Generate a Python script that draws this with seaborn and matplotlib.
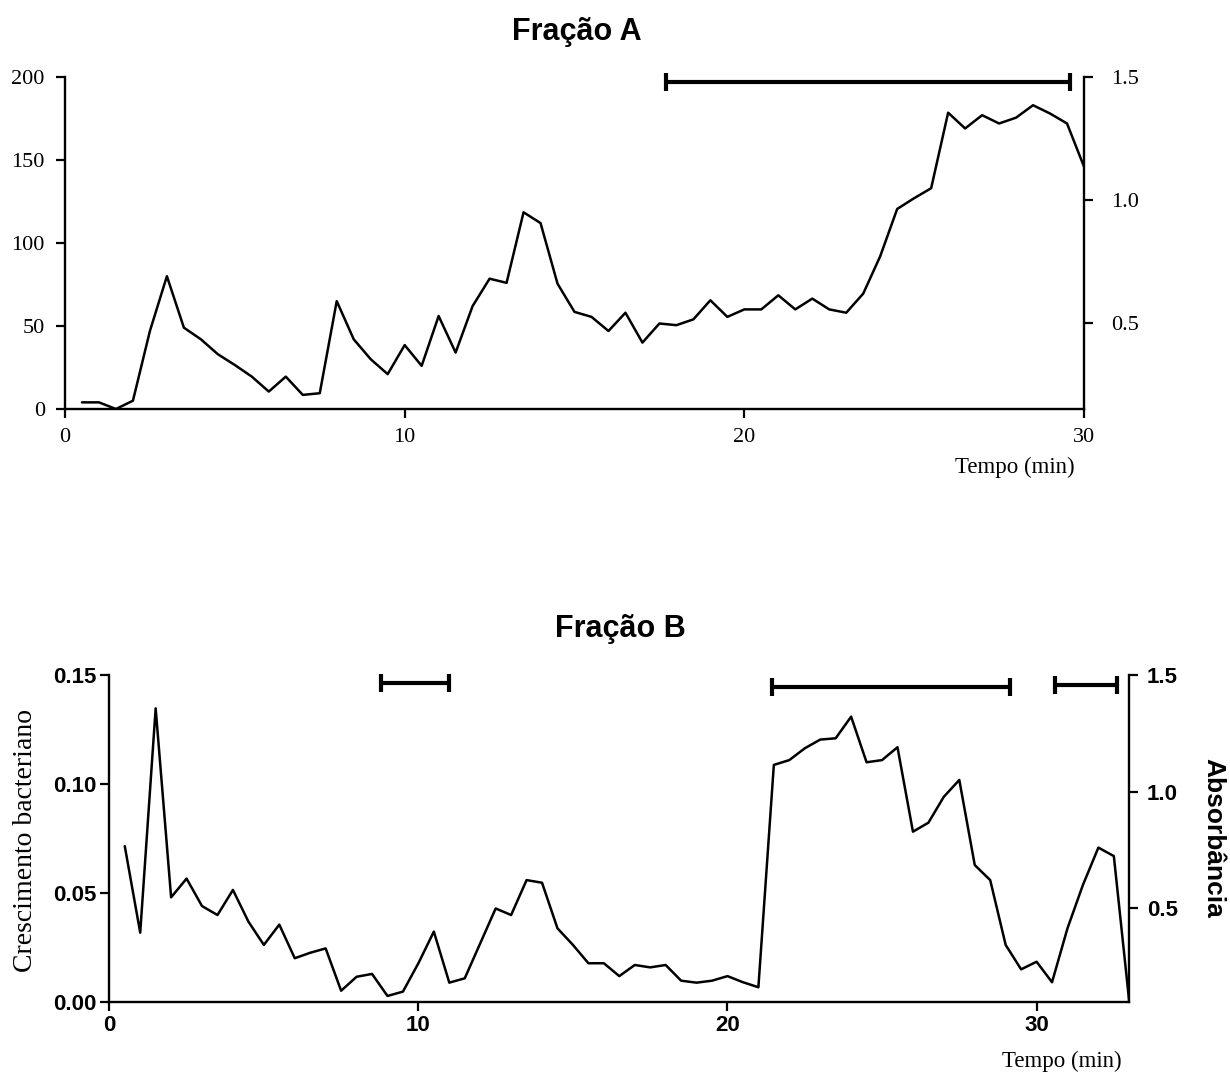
import numpy as np
import pandas as pd
import matplotlib
matplotlib.use("Agg")
import matplotlib.pyplot as plt
import seaborn as sns

# Fração A - leitura do cromatograma (tempo em min)
tempo_a = [0.5, 1.0, 1.5, 2.0, 2.5, 3.0, 3.5, 4.0, 4.5, 5.0,
           5.5, 6.0, 6.5, 7.0, 7.5, 8.0, 8.5, 9.0, 9.5, 10.0,
           10.5, 11.0, 11.5, 12.0, 12.5, 13.0, 13.5, 14.0, 14.5, 15.0,
           15.5, 16.0, 16.5, 17.0, 17.5, 18.0, 18.5, 19.0, 19.5, 20.0,
           20.5, 21.0, 21.5, 22.0, 22.5, 23.0, 23.5, 24.0, 24.5, 25.0,
           25.5, 26.0, 26.5, 27.0, 27.5, 28.0, 28.5, 29.0, 29.5, 30.0]
sinal_a = [4, 4, 0, 5, 47, 80, 49, 42, 33, 26.5,
           19.5, 10.5, 19.5, 8.5, 9.5, 65, 42, 30, 21, 38.5,
           26, 56, 34, 62, 78.5, 76, 118.5, 112, 75.5, 58.5,
           55.5, 47, 58, 40, 51.5, 50.5, 54, 65.5, 55.5, 60,
           60, 68.5, 60, 66.5, 60, 58, 69.5, 92, 120.5, 127,
           133, 178.5, 169, 177, 172, 175.5, 183, 178, 172, 146]

# Fração B
tempo_b = [0.5, 1.0, 1.5, 2.0, 2.5, 3.0, 3.5, 4.0, 4.5, 5.0,
           5.5, 6.0, 6.5, 7.0, 7.5, 8.0, 8.5, 9.0, 9.5, 10.0,
           10.5, 11.0, 11.5, 12.0, 12.5, 13.0, 13.5, 14.0, 14.5, 15.0,
           15.5, 16.0, 16.5, 17.0, 17.5, 18.0, 18.5, 19.0, 19.5, 20.0,
           20.5, 21.0, 21.5, 22.0, 22.5, 23.0, 23.5, 24.0, 24.5, 25.0,
           25.5, 26.0, 26.5, 27.0, 27.5, 28.0, 28.5, 29.0, 29.5, 30.0,
           30.5, 31.0, 31.5, 32.0, 32.5, 33.0]
sinal_b = [0.0716, 0.0319, 0.1347, 0.0481, 0.0567, 0.0441, 0.0400, 0.0515, 0.0370, 0.0263,
           0.0356, 0.0202, 0.0227, 0.0247, 0.0053, 0.0117, 0.0130, 0.0029, 0.0049, 0.0179,
           0.0324, 0.0090, 0.0110, 0.0270, 0.0430, 0.0400, 0.0560, 0.0548, 0.0339, 0.0263,
           0.0179, 0.0179, 0.0120, 0.0171, 0.0160, 0.0171, 0.0099, 0.0090, 0.0099, 0.0120,
           0.0092, 0.0069, 0.1088, 0.1110, 0.1164, 0.1204, 0.1210, 0.1309, 0.1100, 0.1110,
           0.1169, 0.0782, 0.0823, 0.0942, 0.1019, 0.0629, 0.0560, 0.0263, 0.0151, 0.0186,
           0.0092, 0.0339, 0.0538, 0.0709, 0.0670, 0.0000]

# faixas com atividade (barras horizontais)
faixa_a_ini = [17.7]
faixa_a_fim = [29.6]
faixa_a_nivel = [197]
faixa_b_ini = [8.8, 21.45, 30.6]
faixa_b_fim = [11.0, 29.15, 32.6]
faixa_b_nivel = [0.1463, 0.1444, 0.1454]

ticks_a_esq = [0, 50, 100, 150, 200]
ticks_a_x = [0, 10, 20, 30]
ticks_b_esq = [0.00, 0.05, 0.10, 0.15]
ticks_b_x = [0, 10, 20, 30]
ticks_abs = [0.5, 1.0, 1.5]

sns.set_theme(style="ticks")
plt.rcParams["font.family"] = ["Liberation Sans", "DejaVu Sans"]
plt.rcParams["axes.linewidth"] = 1.7
plt.rcParams["text.color"] = "black"

serif = ["Liberation Serif", "DejaVu Serif"]
sans = ["Liberation Sans", "DejaVu Sans"]

fig = plt.figure(figsize=(12.3, 10.75), dpi=100)
W, H = 1230, 1075


def box(x0, y0, x1, y1):
    return [x0 / W, 1 - y1 / H, (x1 - x0) / W, (y1 - y0) / H]


def barras(ax, ini, fim, nivel):
    ini = np.array(ini)
    fim = np.array(fim)
    ax.errorbar((ini + fim) / 2, nivel, xerr=(fim - ini) / 2, fmt="none",
                ecolor="black", elinewidth=3, capsize=6.5, capthick=3, clip_on=False)


def estilo(ax, ax2, familia, peso, pads):
    ax.spines["top"].set_visible(False)
    ax2.spines["top"].set_visible(False)
    ax2.spines["left"].set_visible(False)
    ax2.spines["bottom"].set_visible(False)
    ax.spines["right"].set_visible(False)
    for a in (ax, ax2):
        for sp in a.spines.values():
            sp.set_linewidth(1.7)
            sp.set_color("black")
    ax.tick_params(axis="y", length=6.5, width=1.6, color="black", pad=pads[0])
    ax.tick_params(axis="x", length=6.5, width=1.6, color="black", pad=pads[2])
    ax2.tick_params(axis="y", length=6.5, width=1.6, color="black", pad=pads[1])
    for lab in ax.get_xticklabels() + ax.get_yticklabels() + ax2.get_yticklabels():
        lab.set_fontfamily(familia)
        lab.set_fontweight(peso)
        lab.set_fontsize(16)
        lab.set_color("black")
    ax.set_xlabel("")
    ax.set_ylabel("")
    ax2.set_ylabel("")


# ---- Fração A ----
ax_a = fig.add_axes(box(65, 77, 1084, 409))
sns.lineplot(x=tempo_a, y=sinal_a, ax=ax_a, color="black", linewidth=1.8)
barras(ax_a, faixa_a_ini, faixa_a_fim, faixa_a_nivel)
ax_a.set_xlim(0, 30)
ax_a.set_ylim(0, 200)
ax_a.set_xticks(ticks_a_x)
ax_a.set_yticks(ticks_a_esq)
ax_a2 = ax_a.twinx()
ax_a2.set_ylim(0.152, 1.5)
ax_a2.set_yticks(ticks_abs)
ax_a2.set_yticklabels([f"{v:.1f}" for v in ticks_abs])
estilo(ax_a, ax_a2, serif, "normal", (8, 13, 7))

# ---- Fração B ----
ax_b = fig.add_axes(box(109.3, 675, 1129.3, 1002.3))
sns.lineplot(x=tempo_b, y=sinal_b, ax=ax_b, color="black", linewidth=1.8)
barras(ax_b, faixa_b_ini, faixa_b_fim, faixa_b_nivel)
ax_b.set_xlim(0, 33)
ax_b.set_ylim(0, 0.15)
ax_b.set_xticks(ticks_b_x)
ax_b.set_yticks(ticks_b_esq)
ax_b.set_yticklabels([f"{v:.2f}" for v in ticks_b_esq])
ax_b2 = ax_b.twinx()
ax_b2.set_ylim(0.097, 1.5)
ax_b2.set_yticks(ticks_abs)
ax_b2.set_yticklabels([f"{v:.1f}" for v in ticks_abs])
estilo(ax_b, ax_b2, sans, "bold", (2.5, 6, 2.5))

# textos
fig.text(576.5 / W, 1 - 40 / H, "Fração A", ha="center", va="baseline",
         fontsize=22, fontweight="bold", family=sans, color="black")
fig.text(620 / W, 1 - 637 / H, "Fração B", ha="center", va="baseline",
         fontsize=22, fontweight="bold", family=sans, color="black")
fig.text(1075 / W, 1 - 473 / H, "Tempo (min)", ha="right", va="baseline",
         fontsize=16.5, family=serif, color="black")
fig.text(1121.7 / W, 1 - 1066.7 / H, "Tempo (min)", ha="right", va="baseline",
         fontsize=16.5, family=serif, color="black")
fig.text(26 / W, 1 - 841 / H, "Crescimento bacteriano", rotation=90,
         ha="center", va="center", fontsize=20, family=serif, color="black")
fig.text(1213 / W, 1 - 838 / H, "Absorbância", rotation=270,
         ha="center", va="center", fontsize=19, fontweight="bold", family=sans,
         color="black")

fig.savefig("out.png", dpi=100)
